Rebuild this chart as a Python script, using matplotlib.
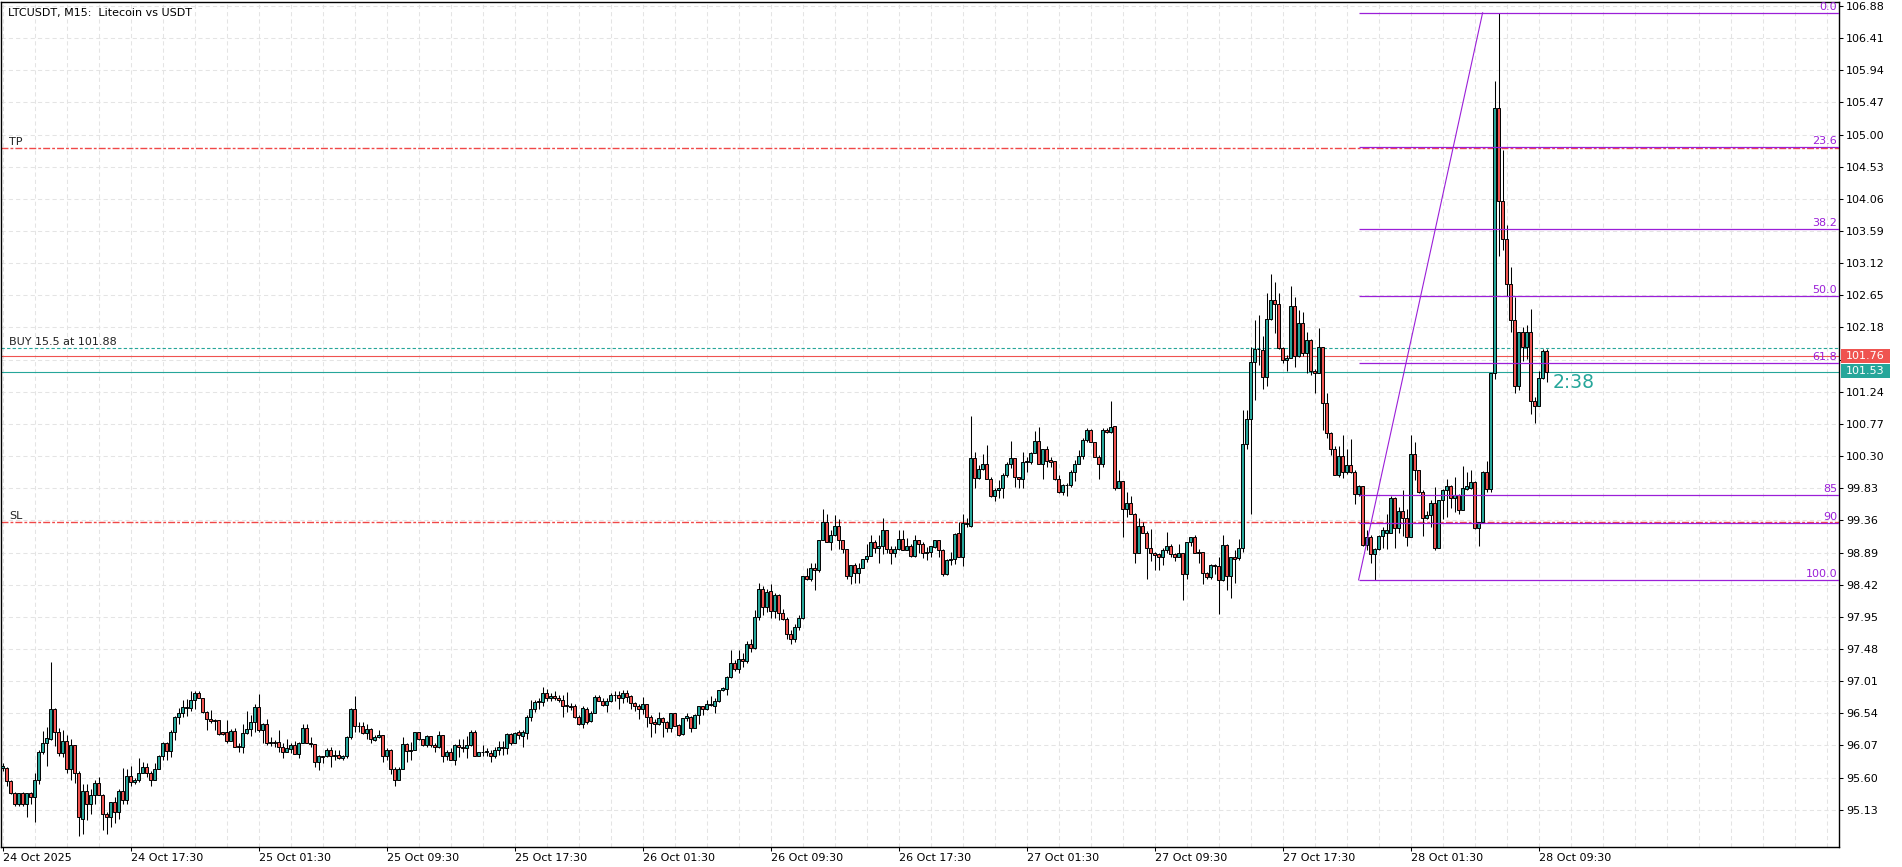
import matplotlib
matplotlib.use('Agg')
import matplotlib.pyplot as plt
import matplotlib.transforms as mtransforms
from matplotlib.patches import Rectangle
import numpy as np

plt.rcParams['font.family'] = 'DejaVu Sans'

# LTCUSDT M15 candles, 24 Oct 09:30 -> 28 Oct 10:00
opens = [
    95.74, 95.74, 95.55, 95.38, 95.21, 95.37, 95.22, 95.37, 95.31, 95.57,
    95.97, 96.11, 96.16, 96.60, 96.27, 95.96, 96.13, 95.72, 96.07, 95.66,
    95.00, 95.41, 95.21, 95.35, 95.52, 95.35, 95.07, 95.03, 95.25, 95.10,
    95.41, 95.27, 95.62, 95.53, 95.56, 95.66, 95.75, 95.67, 95.57, 95.73,
    95.92, 96.10, 95.99, 96.27, 96.49, 96.54, 96.62, 96.61, 96.73, 96.83,
    96.76, 96.56, 96.45, 96.44, 96.44, 96.26, 96.26, 96.14, 96.28, 96.06,
    96.05, 96.25, 96.31, 96.41, 96.63, 96.29, 96.39, 96.11, 96.12, 96.12,
    96.05, 95.98, 96.02, 96.08, 95.94, 96.11, 96.32, 96.11, 96.09, 95.83,
    95.91, 95.91, 96.00, 95.92, 95.93, 95.88, 95.91, 96.19, 96.60, 96.36,
    96.36, 96.25, 96.31, 96.15, 96.19, 96.22, 95.92, 96.00, 95.73, 95.57,
    95.73, 96.09, 95.99, 96.00, 96.26, 96.16, 96.07, 96.21, 96.07, 96.05,
    96.22, 95.92, 95.97, 95.86, 96.08, 96.04, 96.03, 96.07, 96.27, 95.92,
    95.97, 95.98, 95.96, 95.91, 96.00, 96.04, 96.03, 96.23, 96.11, 96.26,
    96.21, 96.25, 96.48, 96.60, 96.71, 96.71, 96.83, 96.76, 96.79, 96.77,
    96.74, 96.66, 96.65, 96.64, 96.49, 96.38, 96.60, 96.42, 96.55, 96.78,
    96.72, 96.66, 96.72, 96.81, 96.80, 96.77, 96.84, 96.79, 96.69, 96.65,
    96.60, 96.67, 96.49, 96.41, 96.38, 96.47, 96.41, 96.32, 96.54, 96.37,
    96.24, 96.47, 96.49, 96.33, 96.52, 96.64, 96.60, 96.67, 96.65, 96.72,
    96.88, 96.90, 97.07, 97.27, 97.19, 97.34, 97.30, 97.55, 97.50, 97.95,
    98.35, 98.10, 98.33, 98.03, 98.27, 98.00, 97.92, 97.70, 97.62, 97.80,
    97.93, 98.55, 98.50, 98.67, 98.63, 99.08, 99.33, 99.05, 99.14, 99.28,
    99.07, 98.94, 98.55, 98.71, 98.59, 98.67, 98.80, 98.84, 99.04, 98.95,
    98.99, 99.22, 98.94, 98.89, 98.94, 99.09, 98.93, 98.99, 98.84, 99.08,
    99.02, 98.89, 98.90, 98.97, 99.08, 98.92, 98.58, 98.78, 98.79, 99.18,
    98.83, 99.30, 99.28, 100.27, 99.98, 100.11, 100.18, 99.97, 99.71, 99.81,
    99.83, 100.03, 100.19, 100.27, 99.99, 99.96, 100.21, 100.22, 100.34, 100.52,
    100.19, 100.41, 100.24, 100.23, 99.96, 99.78, 99.88, 99.87, 100.07, 100.19,
    100.30, 100.54, 100.68, 100.51, 100.29, 100.19, 100.68, 100.65, 100.74, 99.84,
    99.94, 99.52, 99.62, 99.46, 98.89, 99.28, 99.18, 98.95, 98.88, 98.87,
    98.82, 98.93, 98.98, 98.87, 98.83, 98.88, 98.58, 99.04, 99.11, 98.90,
    98.90, 98.59, 98.53, 98.71, 98.70, 98.49, 99.00, 98.54, 98.82, 98.81,
    98.95, 100.48, 100.84, 101.67, 101.87, 101.85, 101.45, 102.30, 102.58, 102.53,
    101.88, 101.70, 101.74, 102.49, 101.76, 102.24, 101.81, 102.00, 101.55, 101.51,
    101.89, 101.08, 100.64, 100.40, 100.03, 100.30, 100.06, 100.17, 100.06, 99.74,
    99.86, 99.00, 99.11, 98.87, 98.94, 99.13, 99.18, 99.18, 99.68, 99.25,
    99.50, 99.39, 99.12, 100.33, 100.09, 99.77, 99.39, 99.44, 99.62, 98.95,
    99.66, 99.80, 99.86, 99.69, 99.73, 99.51, 99.82, 99.84, 99.92, 99.25,
    99.34, 100.07, 99.82, 101.51, 105.39, 104.03, 103.48, 102.82, 102.29, 101.32,
    102.11, 101.90, 102.11, 101.10, 101.03, 101.44, 101.83,
]
highs = [
    95.81, 95.76, 95.56, 95.39, 95.38, 95.39, 95.37, 95.39, 95.66, 96.00,
    96.28, 96.34, 97.29, 96.61, 96.33, 96.30, 96.22, 96.16, 96.08, 95.70,
    95.51, 95.51, 95.43, 95.57, 95.61, 95.36, 95.09, 95.25, 95.32, 95.44,
    95.74, 95.73, 95.77, 95.60, 95.89, 95.83, 95.82, 95.70, 95.81, 95.93,
    96.12, 96.12, 96.30, 96.50, 96.61, 96.74, 96.75, 96.86, 96.86, 96.87,
    96.77, 96.58, 96.59, 96.45, 96.44, 96.26, 96.44, 96.31, 96.33, 96.11,
    96.39, 96.57, 96.51, 96.67, 96.82, 96.40, 96.45, 96.20, 96.15, 96.29,
    96.10, 96.17, 96.10, 96.13, 96.12, 96.38, 96.38, 96.20, 96.09, 95.93,
    95.92, 96.03, 96.05, 96.00, 96.01, 95.93, 96.21, 96.61, 96.79, 96.41,
    96.41, 96.39, 96.32, 96.22, 96.30, 96.22, 96.03, 96.02, 95.75, 95.76,
    96.20, 96.11, 96.12, 96.27, 96.27, 96.16, 96.22, 96.21, 96.11, 96.28,
    96.22, 96.00, 96.03, 96.09, 96.16, 96.17, 96.21, 96.29, 96.29, 95.98,
    96.08, 96.03, 96.01, 96.05, 96.13, 96.13, 96.25, 96.25, 96.26, 96.30,
    96.30, 96.52, 96.73, 96.73, 96.76, 96.93, 96.89, 96.84, 96.86, 96.81,
    96.81, 96.85, 96.69, 96.68, 96.52, 96.64, 96.63, 96.58, 96.80, 96.81,
    96.76, 96.76, 96.83, 96.87, 96.86, 96.88, 96.88, 96.81, 96.71, 96.67,
    96.78, 96.67, 96.52, 96.45, 96.56, 96.48, 96.42, 96.54, 96.55, 96.38,
    96.47, 96.54, 96.50, 96.53, 96.65, 96.64, 96.74, 96.79, 96.77, 96.88,
    96.92, 97.08, 97.47, 97.32, 97.47, 97.42, 97.60, 97.62, 98.05, 98.45,
    98.40, 98.35, 98.43, 98.30, 98.29, 98.06, 97.95, 97.75, 97.85, 97.97,
    98.55, 98.66, 98.73, 98.74, 99.08, 99.53, 99.46, 99.22, 99.44, 99.38,
    99.07, 98.94, 98.71, 98.73, 98.73, 98.80, 99.02, 99.15, 99.07, 99.15,
    99.39, 99.22, 98.98, 98.98, 99.22, 99.22, 99.10, 99.02, 99.15, 99.08,
    99.05, 98.97, 98.98, 99.08, 99.08, 98.94, 98.79, 98.90, 99.17, 99.33,
    99.46, 99.40, 100.89, 100.36, 100.17, 100.33, 100.46, 99.99, 99.83, 99.95,
    100.05, 100.21, 100.52, 100.27, 100.00, 100.36, 100.29, 100.36, 100.66, 100.73,
    100.41, 100.44, 100.29, 100.23, 100.02, 99.89, 99.90, 100.10, 100.24, 100.39,
    100.56, 100.71, 100.69, 100.51, 100.31, 100.71, 100.71, 101.10, 100.74, 100.10,
    99.94, 99.78, 99.71, 99.47, 99.40, 99.34, 99.20, 99.23, 98.90, 98.88,
    98.95, 99.19, 99.02, 98.89, 99.02, 98.88, 99.05, 99.12, 99.15, 98.94,
    98.90, 98.60, 98.72, 98.72, 98.83, 99.14, 99.01, 98.82, 98.93, 99.09,
    100.97, 100.97, 101.90, 102.29, 102.36, 102.05, 102.68, 102.96, 102.84, 102.69,
    101.90, 101.78, 102.79, 102.63, 102.43, 102.41, 102.12, 102.01, 101.58, 102.17,
    101.89, 101.22, 100.65, 100.44, 100.44, 100.61, 100.41, 100.55, 100.10, 99.88,
    99.86, 99.22, 99.14, 98.95, 99.15, 99.27, 99.46, 99.72, 99.70, 99.56,
    99.81, 99.52, 100.61, 100.50, 100.10, 99.80, 99.49, 99.66, 99.85, 99.66,
    99.82, 99.97, 99.88, 99.99, 99.75, 100.16, 100.07, 100.10, 99.93, 99.34,
    100.08, 100.23, 101.51, 105.78, 106.78, 104.78, 103.68, 103.07, 102.63, 102.12,
    102.19, 102.21, 102.45, 101.16, 101.54, 101.86, 101.86,
]
lows = [
    95.70, 95.47, 95.36, 95.19, 95.19, 95.19, 95.03, 95.22, 94.95, 95.51,
    95.95, 95.77, 96.15, 96.06, 95.92, 95.90, 95.66, 95.57, 95.52, 94.74,
    94.78, 94.98, 95.07, 95.21, 95.34, 94.83, 94.78, 94.88, 94.94, 95.00,
    95.22, 95.22, 95.48, 95.50, 95.54, 95.66, 95.61, 95.48, 95.57, 95.73,
    95.86, 95.85, 95.90, 96.15, 96.39, 96.48, 96.50, 96.58, 96.60, 96.76,
    96.55, 96.29, 96.40, 96.29, 96.22, 96.22, 96.10, 96.14, 96.04, 95.98,
    95.96, 96.24, 96.21, 96.27, 96.26, 96.10, 96.08, 96.06, 96.04, 95.98,
    95.89, 95.98, 95.96, 95.94, 95.88, 96.10, 96.10, 96.04, 95.75, 95.71,
    95.81, 95.90, 95.76, 95.86, 95.87, 95.86, 95.89, 96.17, 96.27, 96.27,
    96.24, 96.17, 96.11, 96.14, 96.18, 95.83, 95.86, 95.65, 95.48, 95.56,
    95.72, 95.83, 95.85, 96.00, 96.15, 96.06, 96.04, 96.04, 95.97, 96.03,
    95.83, 95.86, 95.85, 95.79, 95.90, 95.98, 95.88, 96.06, 95.92, 95.92,
    95.91, 95.91, 95.83, 95.89, 95.93, 95.93, 95.94, 96.08, 96.11, 96.17,
    96.04, 96.17, 96.43, 96.56, 96.60, 96.65, 96.72, 96.72, 96.73, 96.70,
    96.48, 96.56, 96.59, 96.47, 96.37, 96.32, 96.38, 96.41, 96.54, 96.72,
    96.65, 96.56, 96.71, 96.72, 96.60, 96.69, 96.71, 96.60, 96.58, 96.45,
    96.53, 96.34, 96.20, 96.25, 96.37, 96.20, 96.26, 96.27, 96.35, 96.21,
    96.22, 96.42, 96.26, 96.32, 96.39, 96.52, 96.59, 96.65, 96.54, 96.71,
    96.87, 96.81, 97.05, 97.16, 97.13, 97.22, 97.27, 97.44, 97.48, 97.90,
    97.98, 98.02, 97.93, 97.93, 97.90, 97.90, 97.62, 97.55, 97.58, 97.76,
    97.92, 98.49, 98.48, 98.34, 98.61, 99.08, 99.05, 98.92, 99.13, 98.94,
    98.89, 98.50, 98.43, 98.45, 98.44, 98.66, 98.75, 98.84, 98.88, 98.74,
    98.87, 98.89, 98.72, 98.82, 98.93, 98.93, 98.92, 98.83, 98.83, 98.89,
    98.81, 98.78, 98.83, 98.95, 98.83, 98.54, 98.56, 98.71, 98.72, 98.83,
    98.70, 99.26, 99.27, 99.84, 99.96, 100.10, 99.96, 99.70, 99.65, 99.69,
    99.69, 100.00, 100.13, 99.85, 99.84, 99.84, 100.07, 100.19, 100.34, 100.19,
    99.97, 100.14, 100.14, 99.95, 99.76, 99.73, 99.72, 99.85, 99.93, 100.18,
    100.25, 100.51, 100.50, 100.29, 99.96, 100.14, 100.63, 100.64, 99.80, 99.83,
    99.12, 99.41, 99.45, 98.73, 98.88, 99.17, 98.51, 98.76, 98.63, 98.63,
    98.71, 98.88, 98.83, 98.76, 98.83, 98.19, 98.50, 98.99, 98.88, 98.74,
    98.43, 98.51, 98.51, 98.58, 97.99, 98.47, 98.34, 98.22, 98.44, 98.78,
    98.90, 100.40, 99.46, 101.12, 101.63, 101.28, 101.33, 102.29, 102.10, 101.87,
    101.66, 101.55, 101.73, 101.60, 101.75, 101.76, 101.52, 101.49, 101.22, 101.51,
    100.68, 100.57, 100.32, 100.02, 100.00, 99.98, 100.04, 100.05, 99.60, 99.72,
    98.98, 98.93, 98.73, 98.49, 98.93, 98.96, 98.94, 99.17, 98.96, 99.17,
    99.13, 98.98, 99.12, 99.95, 99.76, 99.13, 99.38, 99.27, 98.92, 98.95,
    99.38, 99.41, 99.54, 99.48, 99.46, 99.51, 99.81, 99.82, 99.24, 98.99,
    99.33, 99.78, 99.78, 101.43, 103.22, 103.31, 102.64, 102.11, 101.22, 101.27,
    101.69, 101.72, 100.92, 100.78, 101.03, 101.43, 101.39,
]
closes = [
    95.77, 95.55, 95.37, 95.21, 95.37, 95.22, 95.37, 95.31, 95.57, 95.97,
    96.11, 96.18, 96.60, 96.27, 95.96, 96.13, 95.72, 96.07, 95.66, 95.03,
    95.41, 95.21, 95.35, 95.52, 95.35, 95.07, 95.03, 95.25, 95.10, 95.41,
    95.27, 95.62, 95.53, 95.56, 95.66, 95.75, 95.67, 95.57, 95.73, 95.92,
    96.10, 95.99, 96.27, 96.49, 96.54, 96.63, 96.63, 96.73, 96.83, 96.76,
    96.56, 96.45, 96.43, 96.43, 96.24, 96.23, 96.14, 96.28, 96.05, 96.05,
    96.25, 96.31, 96.41, 96.63, 96.29, 96.39, 96.11, 96.12, 96.11, 96.05,
    95.98, 96.03, 96.08, 95.94, 96.11, 96.32, 96.11, 96.09, 95.83, 95.91,
    95.90, 96.00, 95.92, 95.93, 95.88, 95.91, 96.19, 96.60, 96.35, 96.35,
    96.25, 96.31, 96.16, 96.19, 96.22, 95.92, 96.00, 95.73, 95.57, 95.73,
    96.09, 95.99, 96.01, 96.26, 96.16, 96.07, 96.21, 96.07, 96.05, 96.22,
    95.92, 95.97, 95.86, 96.08, 96.04, 96.03, 96.07, 96.27, 95.92, 95.97,
    95.98, 95.99, 95.91, 96.00, 96.04, 96.03, 96.23, 96.11, 96.25, 96.22,
    96.26, 96.48, 96.60, 96.71, 96.71, 96.83, 96.76, 96.79, 96.76, 96.74,
    96.64, 96.64, 96.63, 96.49, 96.38, 96.61, 96.41, 96.55, 96.78, 96.72,
    96.66, 96.72, 96.81, 96.80, 96.76, 96.84, 96.78, 96.69, 96.65, 96.60,
    96.67, 96.49, 96.40, 96.38, 96.47, 96.41, 96.32, 96.54, 96.36, 96.22,
    96.47, 96.50, 96.33, 96.52, 96.64, 96.60, 96.67, 96.66, 96.72, 96.88,
    96.91, 97.07, 97.27, 97.19, 97.34, 97.30, 97.55, 97.50, 97.95, 98.35,
    98.10, 98.32, 98.03, 98.27, 98.00, 97.92, 97.70, 97.62, 97.80, 97.93,
    98.55, 98.50, 98.67, 98.63, 99.08, 99.33, 99.05, 99.14, 99.28, 99.07,
    98.94, 98.55, 98.71, 98.59, 98.67, 98.80, 98.84, 99.04, 98.95, 98.99,
    99.22, 98.94, 98.89, 98.94, 99.09, 98.93, 98.99, 98.84, 99.08, 99.02,
    98.89, 98.90, 98.98, 99.08, 98.92, 98.58, 98.78, 98.79, 99.16, 98.83,
    99.32, 99.32, 100.27, 99.98, 100.11, 100.18, 99.97, 99.71, 99.81, 99.84,
    100.03, 100.19, 100.27, 99.99, 99.96, 100.21, 100.23, 100.34, 100.52, 100.19,
    100.41, 100.23, 100.22, 99.96, 99.78, 99.88, 99.87, 100.07, 100.19, 100.30,
    100.54, 100.68, 100.51, 100.29, 100.19, 100.68, 100.65, 100.73, 99.84, 99.94,
    99.52, 99.62, 99.46, 98.89, 99.28, 99.18, 98.95, 98.88, 98.86, 98.82,
    98.93, 98.98, 98.87, 98.83, 98.88, 98.58, 99.04, 99.11, 98.89, 98.89,
    98.59, 98.53, 98.71, 98.69, 98.49, 99.00, 98.54, 98.82, 98.79, 98.95,
    100.48, 100.84, 101.67, 101.87, 101.86, 101.45, 102.30, 102.58, 102.53, 101.88,
    101.70, 101.74, 102.49, 101.76, 102.24, 101.81, 102.00, 101.55, 101.51, 101.89,
    101.08, 100.64, 100.40, 100.03, 100.30, 100.06, 100.17, 100.06, 99.74, 99.86,
    99.00, 99.11, 98.87, 98.94, 99.13, 99.22, 99.22, 99.68, 99.25, 99.50,
    99.39, 99.12, 100.33, 100.09, 99.77, 99.39, 99.44, 99.62, 98.95, 99.66,
    99.80, 99.86, 99.69, 99.73, 99.51, 99.84, 99.86, 99.92, 99.25, 99.34,
    100.06, 99.82, 101.51, 105.39, 104.03, 103.48, 102.82, 102.29, 101.32, 102.11,
    101.90, 102.11, 101.10, 101.03, 101.44, 101.83, 101.53,
]

time_labels = ['24 Oct 2025', '24 Oct 17:30', '25 Oct 01:30', '25 Oct 09:30',
               '25 Oct 17:30', '26 Oct 01:30', '26 Oct 09:30', '26 Oct 17:30',
               '27 Oct 01:30', '27 Oct 09:30', '27 Oct 17:30', '28 Oct 01:30',
               '28 Oct 09:30']
bars_per_label = 32   # 8 hours of M15 bars
bars_per_grid = 8

price_ticks = [106.88, 106.41, 105.94, 105.47, 105.00, 104.53, 104.06, 103.59,
               103.12, 102.65, 102.18, 101.71, 101.24, 100.77, 100.30, 99.83,
               99.36, 98.89, 98.42, 97.95, 97.48, 97.01, 96.54, 96.07, 95.60,
               95.13]

tp_level = 104.80
sl_level = 99.33
buy_level = 101.88
buy_text = 'BUY 15.5 at 101.88'
ask_price = 101.76
bid_price = 101.53
countdown = '2:38'

fib_high = 106.78
fib_low = 98.49
fib_start = 339
fib_peak = 370
fib_levels = [0.0, 23.6, 38.2, 50.0, 61.8, 85, 90, 100.0]
fib_texts = ['0.0', '23.6', '38.2', '50.0', '61.8', '85', '90', '100.0']

GREEN = '#26a69a'
RED = '#ef5350'
LINE_RED = '#f04848'
FIB = '#9b1fd8'
GRID = '#e4e4e4'

o = np.array(opens)
h = np.array(highs)
l = np.array(lows)
c = np.array(closes)
h = np.maximum(h, np.maximum(o, c))
l = np.minimum(l, np.minimum(o, c))
x = np.arange(len(o))

fig = plt.figure(figsize=(19.02, 8.67), dpi=100)
ax = fig.add_axes([1 / 1902, 20 / 867, 1838 / 1902, 845 / 867])
ax.set_xlim(-0.4, 459.1)
ax.set_ylim(94.585, 106.938)

# grid
for p in price_ticks:
    ax.axhline(p, color=GRID, lw=0.75, ls=(0, (4, 3)), zorder=0)
for v in range(0, 460, bars_per_grid):
    ax.axvline(v, color=GRID, lw=0.75, ls=(0, (4, 3)), zorder=0)

# candles
up = c >= o
cols = np.where(up, GREEN, RED)
ax.vlines(x, l, h, color='black', lw=0.75, zorder=3)
ax.bar(x, np.maximum(np.abs(c - o), 0.008), bottom=np.minimum(o, c), width=0.6,
       color=cols, edgecolor='black', linewidth=0.7, zorder=4)

# trade levels
trans = mtransforms.blended_transform_factory(ax.transAxes, ax.transData)
ax.axhline(tp_level, color=LINE_RED, lw=1.0, ls=(0, (5, 1.5, 2, 1.5)), zorder=2)
ax.axhline(sl_level, color=LINE_RED, lw=1.0, ls=(0, (5, 1.5, 2, 1.5)), zorder=2)
ax.axhline(buy_level, color=GREEN, lw=0.8, ls=(0, (3, 2)), zorder=2)
ax.axhline(ask_price, color=RED, lw=0.8, zorder=2)
ax.axhline(bid_price, color=GREEN, lw=0.8, zorder=2)
for lev, txt in [(tp_level, 'TP'), (sl_level, 'SL'), (buy_level, buy_text)]:
    ax.text(0.0044, lev + 0.02, txt, transform=trans, fontsize=8, color='#222222',
            ha='left', va='bottom')

# fibonacci
fib_prices = [fib_high - (fib_high - fib_low) * f / 100 for f in fib_levels]
ax.hlines(fib_prices, fib_start, 459.1, color=FIB, lw=0.9, zorder=5)
ax.plot([fib_start, fib_peak], [fib_low, fib_high], color=FIB, lw=0.8, zorder=5)
for fp, ft in zip(fib_prices, fib_texts):
    ax.text(0.9989, fp + 0.015, ft, transform=trans, fontsize=8, color=FIB,
            ha='right', va='bottom', clip_on=False)

# price boxes on the right scale (they cover the 101.71 scale label)
for price, yc, col in [(ask_price, 101.7625, RED), (bid_price, 101.545, GREEN)]:
    ax.add_patch(Rectangle((1.0011, yc - 0.1025), 0.0266, 0.205, transform=trans,
                           facecolor=col, edgecolor='none', clip_on=False, zorder=10))
    ax.text(1.0144, yc, f'{price:.2f}', transform=trans, fontsize=8, color='white',
            ha='center', va='center', clip_on=False, zorder=11)

ax.text(387.6, 101.37, countdown, fontsize=13.5, color=GREEN, ha='left', va='center')

# axes styling
for s in ax.spines.values():
    s.set_color('black')
    s.set_linewidth(1.0)
ax.yaxis.tick_right()
ax.set_yticks(price_ticks)
hidden = (ask_price + bid_price) / 2
ax.set_yticklabels(['' if abs(p - hidden) < 0.1 else f'{p:.2f}' for p in price_ticks])
ax.tick_params(axis='y', direction='out', length=3, width=0.75, labelsize=8, pad=2)
ax.set_xticks(range(0, bars_per_label * len(time_labels), bars_per_label))
ax.set_xticklabels(time_labels, ha='left')
ax.tick_params(axis='x', direction='out', length=3, width=0.75, labelsize=8, pad=1.5)

fig.text(8 / 1902, 1 - 13 / 867, 'LTCUSDT, M15:  Litecoin vs USDT', fontsize=8,
         ha='left', va='center')

fig.savefig('out.png', dpi=100)
